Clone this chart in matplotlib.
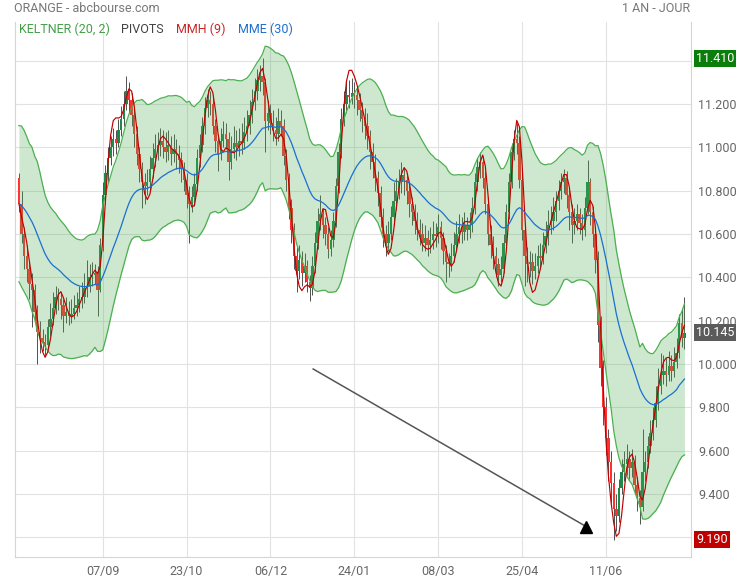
import numpy as np
import pandas as pd
import matplotlib
matplotlib.use("Agg")
import matplotlib.pyplot as plt
import matplotlib.transforms as mtransforms

plt.rcParams["font.family"] = ["Roboto", "DejaVu Sans"]

# ORANGE daily candles, 25/07/2023 -> 23/07/2024 (open = previous close)
first_open = 10.86
close = [
    10.74, 10.60, 10.50, 10.44, 10.37, 10.34, 10.24, 10.15, 10.12, 10.10,
    10.09, 10.17, 10.21, 10.26, 10.31, 10.30, 10.27, 10.22, 10.24, 10.22,
    10.23, 10.26, 10.27, 10.30, 10.31, 10.35, 10.36, 10.40, 10.41, 10.42,
    10.34, 10.55, 10.78, 10.88, 10.95, 11.00, 11.04, 11.02, 11.08, 11.13,
    11.20, 11.26, 11.22, 11.15, 11.06, 10.97, 10.90, 10.84, 10.82, 10.84,
    10.90, 10.95, 10.99, 11.01, 11.03, 11.00, 10.98, 11.01, 10.97, 10.99,
    10.97, 10.94, 10.90, 10.85, 10.78, 10.74, 10.77, 10.83, 10.95, 11.01,
    11.10, 11.18, 11.22, 11.20, 11.10, 11.03, 10.97, 11.03, 11.06, 11.04,
    10.93, 10.99, 11.02, 11.00, 11.03, 11.02, 11.07, 11.10, 11.15, 11.21,
    11.26, 11.31, 11.33, 11.30, 11.12, 11.16, 11.11, 11.08, 11.06, 11.12,
    11.10, 10.96, 10.85, 10.72, 10.62, 10.50, 10.43, 10.48, 10.42, 10.45,
    10.38, 10.35, 10.45, 10.56, 10.66, 10.69, 10.64, 10.60, 10.53, 10.57,
    10.66, 10.82, 10.98, 11.13, 11.20, 11.24, 11.23, 11.25, 11.24, 11.22,
    11.17, 11.13, 11.10, 11.05, 10.98, 10.93, 10.86, 10.79, 10.68, 10.60,
    10.56, 10.60, 10.68, 10.75, 10.80, 10.84, 10.87, 10.85, 10.80, 10.74,
    10.70, 10.66, 10.62, 10.60, 10.56, 10.58, 10.55, 10.57, 10.60, 10.59,
    10.63, 10.58, 10.52, 10.47, 10.46, 10.50, 10.55, 10.60, 10.63, 10.61,
    10.64, 10.62, 10.64, 10.72, 10.84, 10.91, 10.93, 10.86, 10.74, 10.60,
    10.55, 10.50, 10.46, 10.41, 10.44, 10.56, 10.70, 10.84, 10.98, 11.04,
    11.02, 10.85, 10.62, 10.50, 10.46, 10.47, 10.43, 10.45, 10.50, 10.49,
    10.55, 10.59, 10.64, 10.66, 10.70, 10.75, 10.80, 10.84, 10.86, 10.78,
    10.70, 10.64, 10.66, 10.69, 10.65, 10.62, 10.72, 10.84, 10.70, 10.60,
    10.48, 10.18, 9.98, 9.80, 9.66, 9.55, 9.45, 9.33, 9.30, 9.43,
    9.50, 9.54, 9.56, 9.52, 9.55, 9.44, 9.38, 9.34, 9.50, 9.55,
    9.62, 9.68, 9.74, 9.82, 9.90, 9.95, 9.97, 9.95, 9.99, 9.97,
    10.01, 10.05, 10.19, 10.12, 10.145,
]
high = [
    10.88, 10.80, 10.63, 10.55, 10.47, 10.42, 10.37, 10.27, 10.20, 10.16,
    10.14, 10.21, 10.28, 10.33, 10.36, 10.35, 10.33, 10.30, 10.31, 10.29,
    10.30, 10.32, 10.33, 10.36, 10.38, 10.42, 10.48, 10.46, 10.47, 10.46,
    10.45, 10.58, 10.84, 10.92, 11.00, 11.05, 11.09, 11.08, 11.13, 11.19,
    11.26, 11.33, 11.30, 11.25, 11.18, 11.10, 11.00, 10.93, 10.88, 10.90,
    10.96, 11.02, 11.06, 11.07, 11.09, 11.08, 11.07, 11.08, 11.05, 11.06,
    11.04, 11.01, 10.98, 10.93, 10.88, 10.82, 10.82, 10.88, 10.99, 11.06,
    11.14, 11.23, 11.27, 11.26, 11.23, 11.13, 11.06, 11.09, 11.12, 11.11,
    11.07, 11.05, 11.10, 11.08, 11.09, 11.11, 11.14, 11.17, 11.22, 11.27,
    11.32, 11.36, 11.38, 11.41, 11.32, 11.22, 11.20, 11.17, 11.14, 11.18,
    11.17, 11.13, 10.99, 10.88, 10.76, 10.65, 10.54, 10.55, 10.52, 10.51,
    10.48, 10.41, 10.50, 10.61, 10.72, 10.78, 10.72, 10.68, 10.63, 10.62,
    10.70, 10.86, 11.02, 11.18, 11.26, 11.30, 11.31, 11.32, 11.30, 11.28,
    11.25, 11.21, 11.18, 11.16, 11.08, 11.02, 10.97, 10.89, 10.82, 10.72,
    10.64, 10.66, 10.73, 10.84, 10.86, 10.90, 10.93, 10.91, 10.88, 10.83,
    10.77, 10.74, 10.70, 10.67, 10.65, 10.64, 10.62, 10.63, 10.66, 10.65,
    10.69, 10.66, 10.61, 10.55, 10.51, 10.56, 10.61, 10.66, 10.69, 10.68,
    10.70, 10.68, 10.70, 10.77, 10.88, 10.95, 10.98, 10.96, 10.89, 10.77,
    10.64, 10.59, 10.54, 10.49, 10.50, 10.60, 10.74, 10.88, 11.02, 11.08,
    11.11, 11.05, 10.88, 10.65, 10.54, 10.52, 10.51, 10.51, 10.55, 10.56,
    10.61, 10.66, 10.71, 10.73, 10.77, 10.80, 10.85, 10.88, 10.90, 10.89,
    10.81, 10.74, 10.72, 10.74, 10.72, 10.69, 10.77, 10.94, 10.86, 10.73,
    10.63, 10.52, 10.22, 10.02, 9.85, 9.70, 9.60, 9.50, 9.40, 9.47,
    9.56, 9.60, 9.63, 9.60, 9.61, 9.58, 9.48, 9.42, 9.70, 9.60,
    9.67, 9.74, 9.80, 9.90, 9.98, 10.05, 10.04, 10.03, 10.06, 10.04,
    10.08, 10.12, 10.23, 10.26, 10.31,
]
low = [
    10.70, 10.56, 10.44, 10.38, 10.30, 10.17, 10.20, 10.00, 10.05, 10.06,
    10.04, 10.07, 10.13, 10.18, 10.23, 10.25, 10.21, 10.15, 10.19, 10.18,
    10.19, 10.21, 10.22, 10.24, 10.26, 10.28, 10.31, 10.33, 10.36, 10.37,
    10.22, 10.33, 10.52, 10.74, 10.84, 10.92, 10.96, 10.97, 11.00, 11.05,
    11.10, 11.17, 11.16, 11.10, 11.00, 10.92, 10.84, 10.72, 10.74, 10.78,
    10.80, 10.86, 10.91, 10.94, 10.96, 10.95, 10.93, 10.94, 10.92, 10.93,
    10.90, 10.88, 10.84, 10.80, 10.72, 10.56, 10.70, 10.73, 10.80, 10.91,
    10.98, 11.06, 11.14, 11.15, 11.06, 10.98, 10.89, 10.94, 11.00, 10.99,
    10.85, 10.90, 10.95, 10.94, 10.96, 10.97, 10.99, 11.03, 11.06, 11.11,
    11.17, 11.22, 11.26, 11.24, 10.98, 11.08, 11.06, 11.03, 11.01, 11.03,
    11.05, 10.92, 10.80, 10.67, 10.56, 10.44, 10.33, 10.39, 10.36, 10.38,
    10.33, 10.29, 10.32, 10.42, 10.53, 10.62, 10.58, 10.55, 10.49, 10.50,
    10.54, 10.63, 10.79, 10.95, 11.10, 11.16, 11.18, 11.20, 11.18, 11.15,
    11.12, 11.07, 11.04, 10.99, 10.90, 10.86, 10.80, 10.73, 10.63, 10.54,
    10.50, 10.52, 10.57, 10.64, 10.71, 10.76, 10.79, 10.78, 10.74, 10.68,
    10.64, 10.60, 10.57, 10.55, 10.52, 10.52, 10.50, 10.51, 10.53, 10.54,
    10.56, 10.53, 10.46, 10.38, 10.40, 10.43, 10.47, 10.52, 10.56, 10.56,
    10.57, 10.57, 10.58, 10.61, 10.69, 10.80, 10.86, 10.81, 10.69, 10.55,
    10.49, 10.44, 10.40, 10.36, 10.38, 10.42, 10.53, 10.67, 10.81, 10.94,
    10.97, 10.81, 10.57, 10.36, 10.38, 10.40, 10.37, 10.39, 10.42, 10.44,
    10.46, 10.51, 10.55, 10.60, 10.62, 10.66, 10.71, 10.76, 10.79, 10.72,
    10.62, 10.56, 10.60, 10.62, 10.60, 10.57, 10.59, 10.69, 10.64, 10.54,
    10.42, 10.10, 9.90, 9.72, 9.58, 9.46, 9.36, 9.19, 9.23, 9.27,
    9.40, 9.46, 9.49, 9.47, 9.48, 9.40, 9.32, 9.26, 9.32, 9.46,
    9.52, 9.59, 9.65, 9.71, 9.79, 9.86, 9.91, 9.90, 9.92, 9.92,
    9.94, 9.98, 10.03, 10.08, 10.07,
]
holidays = ["2023-12-25", "2023-12-26", "2024-01-01", "2024-03-29", "2024-04-01", "2024-05-01"]
tick_dates = ["2023-09-07", "2023-10-23", "2023-12-06", "2024-01-24",
              "2024-03-08", "2024-04-25", "2024-06-11"]
price_ticks = [9.2, 9.4, 9.6, 9.8, 10.0, 10.2, 10.4, 10.6, 10.8, 11.0, 11.2, 11.4]
# hand-drawn trend line (candle index, price)
trend_x = [112.3, 216.5]
trend_y = [9.977, 9.25]

c = np.array(close)
h = np.array(high)
l = np.array(low)
o = np.r_[first_open, c[:-1]]
n = len(c)
x = np.arange(n)
dates = pd.bdate_range(start="2023-07-25", periods=n, freq="C", holidays=holidays)

# indicators
s = pd.Series(c)
mme = s.ewm(span=30, adjust=False).mean().values
mid = s.ewm(span=20, adjust=False).mean().values
prev = np.r_[o[0], c[:-1]]
tr = np.maximum(h - l, np.maximum(np.abs(h - prev), np.abs(l - prev)))
atr = pd.Series(tr).ewm(span=20, adjust=False).mean().values
upper = mid + 2 * atr
lower = mid - 2 * atr


def wma(v, p):
    out = np.empty(len(v))
    for i in range(len(v)):
        w = v[max(0, i - p + 1):i + 1]
        wt = np.arange(1, len(w) + 1)
        out[i] = (w * wt).sum() / wt.sum()
    return out


mmh = wma(2 * wma(c, 4) - wma(c, 9), 3)

fig = plt.figure(figsize=(7.4, 5.8), dpi=100)
ax = fig.add_axes([15 / 740, 1 - 556.7 / 580, 676 / 740, 534.7 / 580])

up = c >= o
body = np.maximum(np.abs(c - o), 0.006)
ax.vlines(x, l, h, color="#505050", lw=0.7, zorder=1)
ax.bar(x[up], body[up], bottom=o[up], width=0.9, color="#1e8a4a", lw=0, zorder=2)
ax.bar(x[~up], body[~up], bottom=c[~up], width=0.9, color="#ff3030", lw=0, zorder=2)

ax.fill_between(x, lower, upper, color="#4caf50", alpha=0.28, lw=0, zorder=3)
ax.plot(x, upper, color="#4caf50", lw=0.9, zorder=4)
ax.plot(x, lower, color="#4caf50", lw=0.9, zorder=4)
ax.plot(x, mmh, color="#c00000", lw=0.85, zorder=5)
ax.plot(x, mme, color="#1a6fd4", lw=0.9, zorder=6)

ax.plot(trend_x, trend_y, color="#555555", lw=1.1, zorder=7)
ax.plot(trend_x[1], trend_y[1], marker="^", color="black", ms=8, zorder=8)

ax.set_xlim(-1.5, n + 1.5)
ax.set_ylim(9.111, 11.578)
xt = dates.get_indexer(pd.to_datetime(tick_dates))
ax.set_xticks(xt)
ax.set_xticklabels([pd.Timestamp(d).strftime("%d/%m") for d in tick_dates])
ax.set_yticks(price_ticks)
# 11.400 sits under the highest-price tag, so it stays blank as in the source
ax.set_yticklabels(["" if v == 11.4 else f"{v:.3f}" for v in price_ticks])
ax.yaxis.tick_right()
ax.tick_params(axis="both", length=0, labelsize=9, colors="#666666")
ax.tick_params(axis="y", pad=5)
ax.tick_params(axis="x", pad=6)
ax.grid(True, color="#e2e2e2", lw=0.8)
ax.set_axisbelow(True)
ax.spines["top"].set_visible(False)
for sp in ["left", "right", "bottom"]:
    ax.spines[sp].set_color("#d5d5d5")
    ax.spines[sp].set_linewidth(0.8)

# price labels on the right axis
trans = mtransforms.blended_transform_factory(ax.transAxes, ax.transData)
for val, col in [(h.max(), "#0b7d0b"), (c[-1], "#5b5b5b"), (l.min(), "#c00000")]:
    ax.text(1.0074, val, f"{val:.3f}", transform=trans, color="white", fontsize=9,
            va="center", ha="left", clip_on=False, zorder=10,
            bbox=dict(boxstyle="square,pad=0.15", fc=col, ec="none"))

# header
fig.text(14 / 740, 1 - 8 / 580, "ORANGE - abcbourse.com", color="#777777", fontsize=9, va="center")
fig.text(690 / 740, 1 - 8 / 580, "1 AN - JOUR", color="#777777", fontsize=9, va="center", ha="right")
legend_items = [("KELTNER (20, 2)", "#43a047", 19), ("PIVOTS", "#444444", 120.5),
                ("MMH (9)", "#c62828", 176.5), ("MME (30)", "#1e6fd0", 238.5)]
for label, col, px in legend_items:
    fig.text(px / 740, 1 - 29.5 / 580, label, color=col, fontsize=9, va="center")

fig.savefig("out.png", dpi=100)
